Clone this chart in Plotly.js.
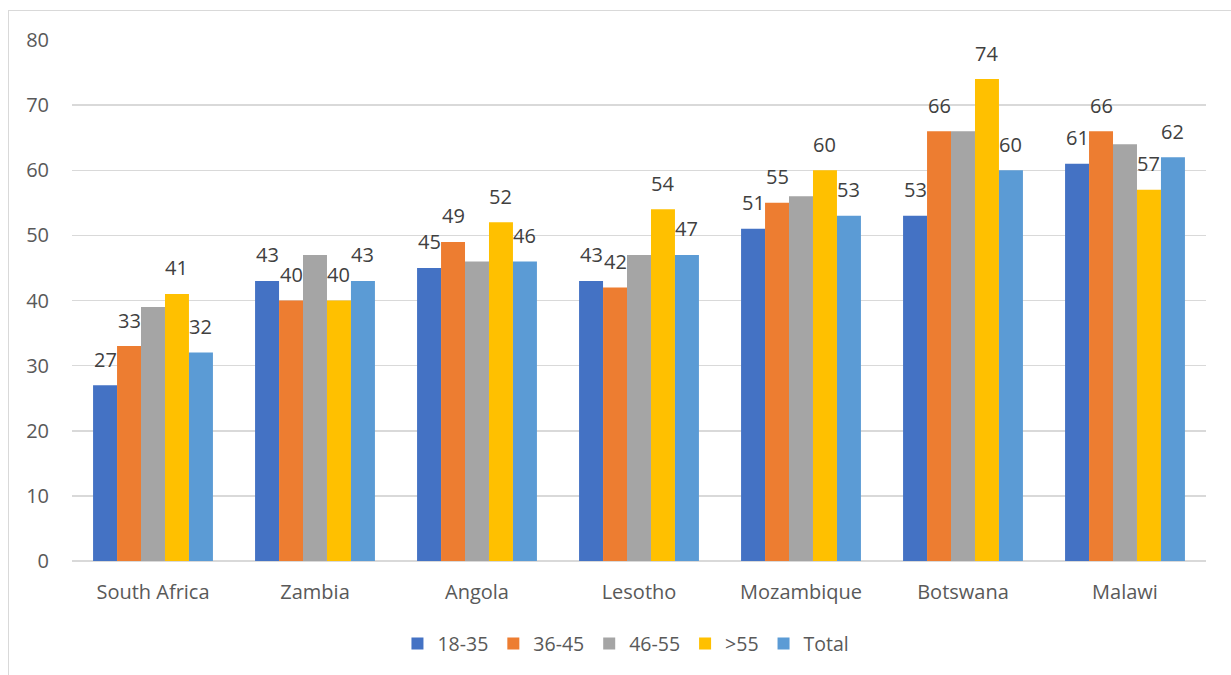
<!DOCTYPE html>
<html>
<head>
<meta charset="utf-8">
<script src="https://cdn.plot.ly/plotly-3.0.1.min.js"></script>
<style>
  html, body { margin: 0; padding: 0; background: #ffffff; }
  #wrap { position: relative; width: 1231px; height: 675px; overflow: hidden; }
  #frame { position: absolute; left: 8px; top: 10px; width: 1240px; height: 700px;
           border-left: 1.5px solid #d9d9d9; border-top: 1.5px solid #d9d9d9; pointer-events: none; }
  #chart { position: absolute; left: 0; top: 0; width: 1231px; height: 675px; }
</style>
</head>
<body>
<div id="wrap">
  <div id="chart"></div>
  <div id="frame"></div>
</div>
<script>
// Countries along the x axis
const countries = ["South Africa", "Zambia", "Angola", "Lesotho", "Mozambique", "Botswana", "Malawi"];

// Age-group series
const age18to35 = [27, 43, 45, 43, 51, 53, 61];
const age36to45 = [33, 40, 49, 42, 55, 66, 66];
const age46to55 = [39, 47, 46, 47, 56, 66, 64];
const ageOver55 = [41, 40, 52, 54, 60, 74, 57];
const total     = [32, 43, 46, 47, 53, 60, 62];

const seriesNames  = ["18-35", "36-45", "46-55", ">55", "Total"];
const seriesValues = [age18to35, age36to45, age46to55, ageOver55, total];
const seriesColors = ["#4472C4", "#ED7D31", "#A5A5A5", "#FFC000", "#5B9BD5"];
const showLabels   = [true, true, false, true, true];

const FONT = "Open Sans, Liberation Sans, sans-serif";
const W = 1231, H = 675;
const margin = { l: 72, r: 25, t: 40, b: 114 };
const bargap = 0.26;

const traces = seriesNames.map((name, i) => ({
  type: "bar",
  name: name,
  x: countries,
  y: seriesValues[i],
  marker: { color: seriesColors[i], line: { width: 0 } },
  hoverinfo: "x+y+name"
}));

// Value labels sit above each bar, centred on it
const plotW = W - margin.l - margin.r;
const groupW = plotW / countries.length * (1 - bargap);
const barW = groupW / seriesNames.length;
const annotations = [];
seriesValues.forEach((vals, i) => {
  if (!showLabels[i]) return;
  vals.forEach((v, j) => {
    annotations.push({
      x: countries[j], y: v, xref: "x", yref: "y",
      text: String(v), showarrow: false,
      xanchor: "center", yanchor: "middle",
      xshift: (i - (seriesNames.length - 1) / 2) * barW,
      yshift: 26,
      font: { family: FONT, size: 20, color: "#404040" }
    });
  });
});

const layout = {
  width: W, height: H,
  margin: margin,
  paper_bgcolor: "rgba(0,0,0,0)",
  plot_bgcolor: "rgba(0,0,0,0)",
  barmode: "group",
  bargap: bargap,
  bargroupgap: 0,
  showlegend: true,
  legend: {
    orientation: "h",
    x: 0.4885, xanchor: "center",
    y: -0.159, yanchor: "middle",
    font: { family: FONT, size: 19.5, color: "#595959" },
    itemwidth: 30,
    traceorder: "normal"
  },
  xaxis: {
    type: "category",
    showgrid: false,
    showline: false,
    zeroline: false,
    ticks: "",
    ticklabelstandoff: 17,
    tickfont: { family: FONT, size: 20, color: "#595959" }
  },
  yaxis: {
    range: [0, 80],
    dtick: 10,
    showgrid: true,
    gridcolor: "#d9d9d9",
    gridwidth: 1.5,
    zeroline: true,
    zerolinecolor: "#d9d9d9",
    zerolinewidth: 1.5,
    showline: false,
    ticks: "",
    ticklabelstandoff: 22,
    tickfont: { family: FONT, size: 20, color: "#595959" }
  },
  annotations: annotations
};

Plotly.newPlot("chart", traces, layout, { displayModeBar: false, staticPlot: true });
</script>
</body>
</html>
